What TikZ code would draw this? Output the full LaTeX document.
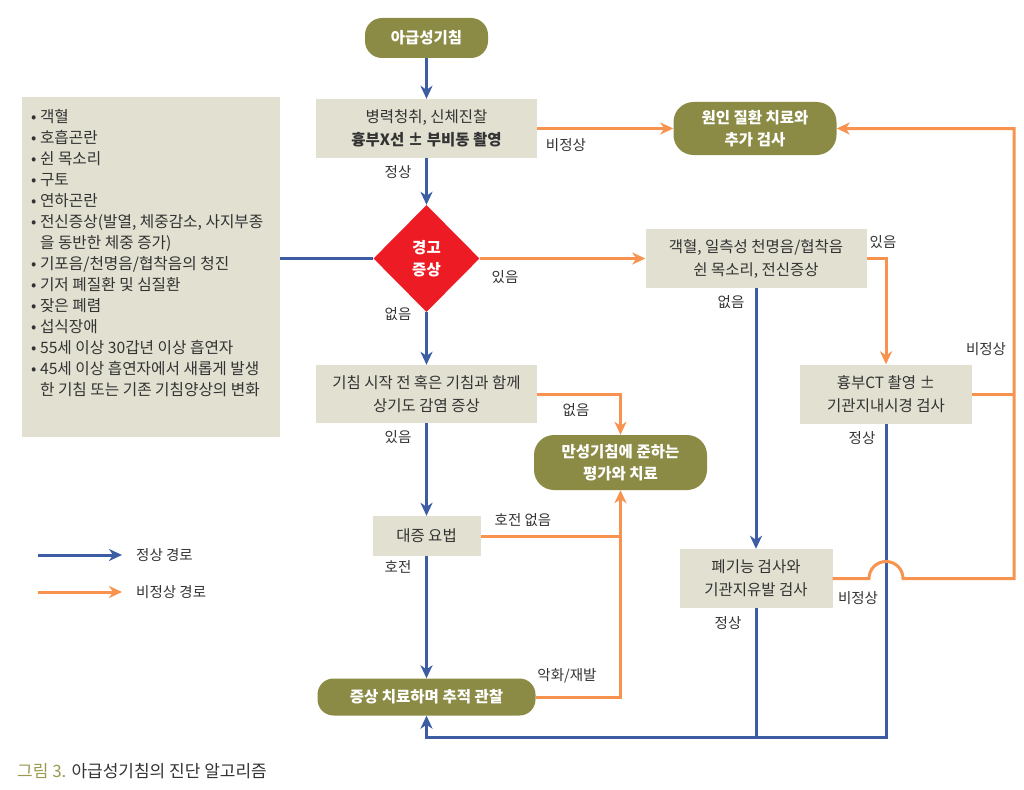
\documentclass[tikz,border=0pt]{standalone}
\usepackage{fontspec}
\setmainfont{Noto Sans CJK KR}
\usetikzlibrary{arrows.meta,shapes.geometric}
\definecolor{cblue}{HTML}{3C5CA4}
\definecolor{corange}{HTML}{F7924F}
\definecolor{colive}{HTML}{8B8B46}
\definecolor{cbeige}{HTML}{E1E0D1}
\definecolor{cred}{HTML}{ED1C24}
\definecolor{ctext}{HTML}{333333}
\definecolor{ccap}{HTML}{9A9A50}
\tikzset{
  base/.style={font=\fontsize{15.5}{23}\selectfont, text=ctext, align=center, inner sep=0pt},
  box/.style={base, fill=cbeige},
  pill/.style={base, fill=colive, text=white, font=\fontsize{15.5}{21.5}\selectfont\bfseries},
  lab/.style={font=\fontsize{14.5}{16}\selectfont, text=ctext, inner sep=0pt},
  tip/.style={-{Stealth[length=13pt,width=12pt,inset=4pt]}},
  barrow/.style={draw=cblue, line width=3pt, tip},
  bline/.style={draw=cblue, line width=3pt},
  oarrow/.style={draw=corange, line width=3pt, tip},
  oline/.style={draw=corange, line width=3pt},
}
\begin{document}
\begin{tikzpicture}[x=1pt,y=-1pt]
\useasboundingbox (0,0) rectangle (1024,789);
% nodes
\node[pill, minimum width=123, minimum height=40, rounded corners=17] (start) at (426.5,38) {아급성기침};
\node[box, minimum width=221, minimum height=59] (hx) at (426.5,128.5) {병력청취, 신체진찰\\\textbf{흉부X선 ± 부비동 촬영}};
\node[pill, minimum width=163, minimum height=53, rounded corners=20] (cause) at (755,128.5) {원인 질환 치료와\\추가 검사};
\node[diamond, fill=cred, minimum width=106, minimum height=107, inner sep=0pt, text=white, align=center, font=\fontsize{15.5}{22}\selectfont\bfseries] (warn) at (426.5,258.5) {경고\\증상};
\node[box, minimum width=221, minimum height=59] (sym) at (756,258.5) {객혈, 일측성 천명음/협착음\\쉰 목소리, 전신증상};
\node[box, minimum width=221, minimum height=58] (uri) at (426.5,394) {기침 시작 전 혹은 기침과 함께\\상기도 감염 증상};
\node[pill, minimum width=173, minimum height=55, rounded corners=20] (chronic) at (620.5,462.5) {만성기침에 준하는\\평가와 치료};
\node[box, minimum width=108, minimum height=40] (sx) at (426.5,536) {대증 요법};
\node[pill, minimum width=218, minimum height=37, rounded corners=16] (obs) at (426.5,697) {증상 치료하며 추적 관찰};
\node[box, minimum width=172, minimum height=59] (ct) at (886,394) {흉부CT 촬영 ±\\기관지내시경 검사};
\node[box, minimum width=153, minimum height=59] (pft) at (756,578.5) {폐기능 검사와\\기관지유발 검사};
\node[fill=cbeige, anchor=north west, minimum width=258, minimum height=340, inner sep=0pt] (risk) at (22,97) {};
\node[anchor=north west, align=left, inner sep=0pt, text=ctext, font=\fontsize{15.7}{21}\selectfont] (risklist) at (31,109) {%
• 객혈\\
• 호흡곤란\\
• 쉰 목소리\\
• 구토\\
• 연하곤란\\
• 전신증상(발열, 체중감소, 사지부종\\
\phantom{• }을 동반한 체중 증가)\\
• 기포음/천명음/협착음의 청진\\
• 기저 폐질환 및 심질환\\
• 잦은 폐렴\\
• 섭식장애\\
• 55세 이상 30갑년 이상 흡연자\\
• 45세 이상 흡연자에서 새롭게 발생\\
\phantom{• }한 기침 또는 기존 기침양상의 변화};
% labels
\node[lab] (l1) at (566,145) {비정상};
\node[lab] (l2) at (398,172) {정상};
\node[lab] (l3) at (505,277) {있음};
\node[lab] (l4) at (398,314) {없음};
\node[lab] (l5) at (883,242) {있음};
\node[lab] (l6) at (731,302) {없음};
\node[lab] (l7) at (986,349) {비정상};
\node[lab] (l8) at (576,410) {없음};
\node[lab] (l9) at (398,437) {있음};
\node[lab] (l10) at (862,438) {정상};
\node[lab] (l11) at (523,520) {호전 없음};
\node[lab] (l12) at (398,567) {호전};
\node[lab] (l13) at (858,598) {비정상};
\node[lab] (l14) at (728,623) {정상};
\node[lab] (l15) at (567,676) {악화/재발};
% connectors
\draw[barrow] (start.south) -- (hx.north);
\draw[oarrow] (hx.east) -- (hx.east -| cause.west);
\draw[barrow] (hx.south) -- (warn.north);
\draw[bline] (risk.east |- warn.west) -- (warn.west);
\draw[oarrow] (warn.east) -- (sym.west);
\draw[barrow] (warn.south) -- (uri.north);
\draw[oarrow] (uri.east) -| (chronic.north);
\draw[barrow] (uri.south) -- (sx.north);
\draw[barrow] (sx.south) -- (obs.north);
\coordinate (j1) at (sx.east -| chronic.south);
\draw[oline] (sx.east) -- (j1);
\draw[oarrow] (obs.east) -| (chronic.south);
\draw[oarrow] (sym.east) -| (ct.north);
\draw[barrow] (sym.south) -- (pft.north);
\coordinate (bend) at (426.5,737);
\draw[barrow] (ct.south) |- (bend) -- (obs.south);
\draw[bline] (pft.south) -- (pft.south |- bend);
\coordinate (rt) at (1014,578.5);
\coordinate (h1) at (869,578.5);
\coordinate (h2) at (886,561.5);
\coordinate (h3) at (903,578.5);
\draw[oline] (ct.east) -- (ct.east -| rt);
\draw[oarrow] (pft.east) -- (h1) .. controls (869,569.1) and (876.6,561.5) .. (h2) .. controls (895.4,561.5) and (903,569.1) .. (h3) -- (rt) |- (cause.east);
% legend
\coordinate (g1a) at (38,555);
\coordinate (g1b) at (122,555);
\coordinate (g2a) at (38,592);
\coordinate (g2b) at (122,592);
\draw[barrow] (g1a) -- (g1b);
\draw[oarrow] (g2a) -- (g2b);
\node[lab, anchor=west, font=\fontsize{14.5}{16}\selectfont] (lg1) at (136,555) {정상 경로};
\node[lab, anchor=west, font=\fontsize{14.5}{16}\selectfont] (lg2) at (136,592) {비정상 경로};
% caption
\node[anchor=west, inner sep=0pt, font=\fontsize{17}{19}\selectfont] (cap) at (17,771) {\textcolor{ccap}{그림 3.} \textcolor{ctext}{아급성기침의 진단 알고리즘}};
\end{tikzpicture}
\end{document}
